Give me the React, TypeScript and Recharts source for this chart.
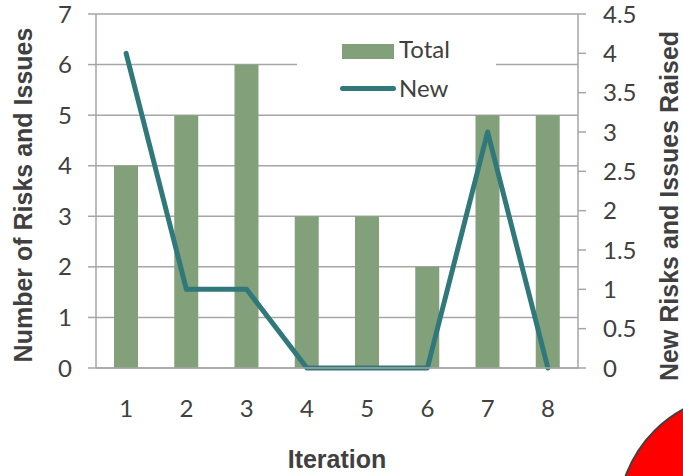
import React from 'react';
import {
    ComposedChart,
    Bar,
    Line,
    XAxis,
    YAxis,
    CartesianGrid,
} from 'recharts';

const categories = ['1', '2', '3', '4', '5', '6', '7', '8'];
const totalValues = [4, 5, 6, 3, 3, 2, 5, 5];
const newValues = [4, 1, 1, 0, 0, 0, 3, 0];
const leftTicks = [0, 1, 2, 3, 4, 5, 6, 7];
const rightTicks = [0, 0.5, 1, 1.5, 2, 2.5, 3, 3.5, 4, 4.5];
const seriesNames = ['Total', 'New'];

const data = categories.map((name, i) => ({
    name,
    total: totalValues[i],
    fresh: newValues[i],
}));

const GRID = '#a6a6a6';
const TEXT = '#404040';
const BAR = '#82a07a';
const LINE = '#31787a';
const tickFont = { fontFamily: 'Lato, sans-serif', fontSize: 24, fill: TEXT };
const titleFont = {
    fontFamily: '"Liberation Sans", Arial, sans-serif',
    fontSize: 25,
    fontWeight: 700,
    fill: TEXT,
};

const VerticalTitle = ({ x, y, text }: { x: number; y: number; text: string }) => (
    <text x={x} y={y} transform={`rotate(-90, ${x}, ${y})`} textAnchor="middle" style={titleFont}>
        {text}
    </text>
);

const ChartLegend = () => (
    <div
        style={{
            position: 'absolute',
            left: 297,
            top: 28,
            width: 199,
            height: 76,
            background: '#fff',
            fontFamily: 'Lato, sans-serif',
            fontSize: 24,
            color: TEXT,
        }}
    >
        <div style={{ position: 'absolute', left: 45, top: 16, width: 52, height: 15, background: BAR }} />
        <div style={{ position: 'absolute', left: 102, top: 6, lineHeight: '30px' }}>{seriesNames[0]}</div>
        <div
            style={{
                position: 'absolute',
                left: 43,
                top: 58,
                width: 56,
                height: 5,
                borderRadius: 3,
                background: LINE,
            }}
        />
        <div style={{ position: 'absolute', left: 102, top: 45, lineHeight: '30px' }}>{seriesNames[1]}</div>
    </div>
);

export default function App() {
    return (
        <div style={{ position: 'absolute', left: 0, top: 0, width: 683, height: 476, background: '#fff', overflow: 'hidden' }}>
            <ComposedChart
                width={683}
                height={476}
                data={data}
                margin={{ top: 14, right: 0, bottom: 0, left: 0 }}
                barCategoryGap={0}
            >
                <CartesianGrid yAxisId="left" vertical={false} stroke={GRID} strokeWidth={1.5} />
                <XAxis
                    dataKey="name"
                    height={108}
                    axisLine={{ stroke: GRID, strokeWidth: 1.5 }}
                    tickLine={false}
                    tickSize={0}
                    tickMargin={32}
                    tick={tickFont}
                    label={{
                        content: () => (
                            <text x={337} y={468} textAnchor="middle" style={titleFont}>
                                Iteration
                            </text>
                        ),
                    }}
                />
                <YAxis
                    yAxisId="left"
                    width={96}
                    domain={[0, 7]}
                    ticks={leftTicks}
                    interval={0}
                    axisLine={{ stroke: GRID, strokeWidth: 1.5 }}
                    tickLine={{ stroke: GRID, strokeWidth: 1.5 }}
                    tickSize={8}
                    tickMargin={16}
                    tick={tickFont}
                    label={{ content: () => <VerticalTitle x={32} y={195} text="Number of Risks and Issues" /> }}
                />
                <YAxis
                    yAxisId="right"
                    orientation="right"
                    width={105}
                    domain={[0, 4.5]}
                    ticks={rightTicks}
                    interval={0}
                    axisLine={{ stroke: GRID, strokeWidth: 1.5 }}
                    tickLine={{ stroke: GRID, strokeWidth: 1.5 }}
                    tickSize={8}
                    tickMargin={17}
                    tick={tickFont}
                    label={{ content: () => <VerticalTitle x={678} y={206} text="New Risks and Issues Raised" /> }}
                />
                <Bar
                    yAxisId="left"
                    dataKey="total"
                    name={seriesNames[0]}
                    fill={BAR}
                    barSize={24}
                    isAnimationActive={false}
                />
                <Line
                    yAxisId="right"
                    type="linear"
                    dataKey="fresh"
                    name={seriesNames[1]}
                    stroke={LINE}
                    strokeWidth={5}
                    strokeLinecap="round"
                    strokeLinejoin="round"
                    dot={false}
                    activeDot={false}
                    isAnimationActive={false}
                />
            </ComposedChart>
            <ChartLegend />
            <svg style={{ position: 'absolute', left: 0, top: 0 }} width={683} height={476}>
                <circle cx={743} cy={519} r={125} fill="#ff0000" stroke="#404040" strokeWidth={2} />
            </svg>
        </div>
    );
}
